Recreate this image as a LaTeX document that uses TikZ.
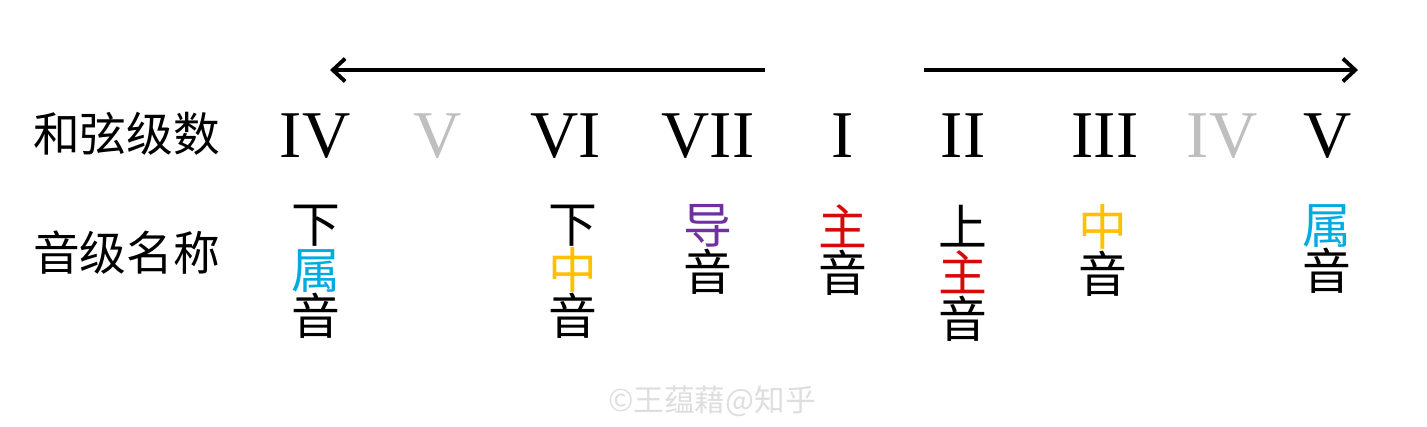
\documentclass[tikz,border=0pt]{standalone}
\usepackage{fontspec}
\setmainfont{Liberation Serif}
\newfontfamily\cjk{Noto Sans CJK SC}
\usepackage{tikz}
\usetikzlibrary{arrows.meta}
\definecolor{tonicred}{RGB}{214,10,10}
\definecolor{leadpurple}{RGB}{112,48,160}
\definecolor{mediantgold}{RGB}{255,192,0}
\definecolor{domblue}{RGB}{0,170,226}
\definecolor{numgray}{RGB}{191,191,191}
\definecolor{markgray}{RGB}{222,222,222}

\begin{document}
\begin{tikzpicture}[
    numeral/.style={anchor=base,inner sep=0pt,font=\fontsize{19}{19}\selectfont},
    faded/.style={numeral,text=numgray},
    rowlabel/.style={anchor=center,inner sep=0pt,font=\cjk\fontsize{13.3}{13.3}\selectfont},
    stack/.style={anchor=north,inner sep=0pt,align=center,font=\cjk\fontsize{13.9}{13.2}\selectfont}]
    \useasboundingbox (0,0) rectangle (14.27,4.26);
    % direction arrows
    \coordinate (downStart) at (7.65,3.56);
    \coordinate (downEnd) at (3.30,3.56);
    \coordinate (upStart) at (9.24,3.56);
    \coordinate (upEnd) at (13.58,3.56);
    \draw [-{Straight Barb[length=3.5pt,width=6.5pt]},line width=1.1pt](downStart)--(downEnd);
    \draw [-{Straight Barb[length=3.5pt,width=6.5pt]},line width=1.1pt](upStart)--(upEnd);
    % row labels
    \node [rowlabel] (chordRow) at (1.265,2.92) {和弦级数};
    \node [rowlabel] (nameRow) at (1.265,1.73) {音级名称};
    % chord degrees
    \node [numeral] (degIV) at (3.15,2.69) {IV};
    \node [faded] (degV) at (4.38,2.69) {V};
    \node [numeral] (degVI) at (5.66,2.69) {VI};
    \node [numeral] (degVII) at (7.08,2.69) {VII};
    \node [numeral] (degI) at (8.43,2.69) {I};
    \node [numeral] (degII) at (9.63,2.69) {II};
    \node [numeral] (degIII) at (11.05,2.69) {III};
    \node [faded] (degIVb) at (12.22,2.69) {IV};
    \node [numeral] (degVb) at (13.28,2.69) {V};
    % scale degree names
    \node [stack] (nameIV) at (3.16,2.22) {下\\\textcolor{domblue}{属}\\音};
    \node [stack] (nameVI) at (5.73,2.22) {下\\\textcolor{mediantgold}{中}\\音};
    \node [stack] (nameVII) at (7.08,2.22) {\textcolor{leadpurple}{导}\\音};
    \node [stack] (nameI) at (8.43,2.22) {\textcolor{tonicred}{主}\\音};
    \node [stack] (nameII) at (9.63,2.22) {上\\\textcolor{tonicred}{主}\\音};
    \node [stack] (nameIII) at (11.03,2.22) {\textcolor{mediantgold}{中}\\音};
    \node [stack] (nameV) at (13.27,2.22) {\textcolor{domblue}{属}\\音};
    % watermark
    \node [inner sep=0pt,text=markgray,font=\cjk\fontsize{8.7}{8.7}\selectfont] (mark) at (7.12,0.25) {©王蕴藉@知乎};
\end{tikzpicture}
\end{document}
